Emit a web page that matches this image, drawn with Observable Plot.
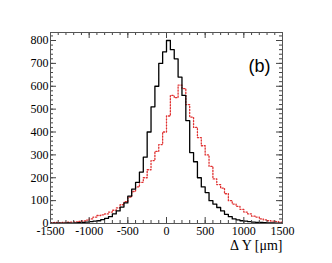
<!DOCTYPE html>
<html>
<head>
<meta charset="utf-8">
<script src="https://cdn.jsdelivr.net/npm/d3@7"></script>
<script src="https://cdn.jsdelivr.net/npm/@observablehq/plot@0.6"></script>
<style>
  html, body { margin: 0; padding: 0; background: #fff; }
</style>
</head>
<body>
<div id="chart"></div>
<script>
// Histogram bin left edges (50 µm bins from -1500 to 1500)
const binEdges = d3.range(-1500, 1500, 50);
// Black solid histogram counts
const blackCounts = [2,1,2,1,3,2,3,4,5,6,8,10,12,17,22,30,42,55,72,90,120,150,180,225,290,400,510,600,700,750,
                     800,760,720,640,560,450,310,270,200,160,135,100,85,70,55,40,30,20,16,12,10,8,6,5,5,4,3,3,2,2];
// Red dotted histogram counts
const redCounts = [4,5,4,5,6,6,7,9,11,15,20,28,35,38,42,50,58,68,82,95,115,140,160,180,200,235,275,315,345,400,
                   470,560,550,605,590,520,465,420,375,340,300,250,195,170,155,130,100,85,75,62,50,42,32,28,20,16,12,10,8,6];
const xLabels = [-1500, -1000, -500, 0, 500, 1000, 1500];
const yLabels = [0, 100, 200, 300, 400, 500, 600, 700, 800];
const xMinor = d3.range(-1500, 1501, 100);
const yMinor = d3.range(0, 821, 20);
const xTitle = "Δ Y [μm]";
const panelTag = "(b)";

function steps(counts) {
  const pts = binEdges.map((e, i) => ({x: e, y: counts[i]}));
  pts.push({x: 1500, y: counts[counts.length - 1]});
  return pts;
}

const W = 332, H = 263, mL = 50, mR = 50, mT = 32, mB = 40;
const fw = W - mL - mR, fh = H - mT - mB;
const tickColor = "#444";

const chart = Plot.plot({
  width: W, height: H,
  marginLeft: mL, marginRight: mR, marginTop: mT, marginBottom: mB,
  style: {fontFamily: "Liberation Serif", fontSize: "12px", background: "#fff", color: "#000"},
  x: {domain: [-1500, 1500]},
  y: {domain: [0, 835]},
  marks: [
    Plot.line(steps(redCounts), {x: "x", y: "y", curve: "step-after", stroke: "#e03030", strokeWidth: 1.3, strokeDasharray: "1.2,1.8"}),
    Plot.line(steps(blackCounts), {x: "x", y: "y", curve: "step-after", stroke: "#000", strokeWidth: 1.3}),
    // minor ticks inside the frame
    Plot.tickY(yMinor, {y: d => d, insetRight: fw - 3, stroke: tickColor}),
    Plot.tickY(yMinor, {y: d => d, insetLeft: fw - 3, stroke: tickColor}),
    Plot.tickX(xMinor, {x: d => d, insetTop: fh - 3, stroke: tickColor}),
    Plot.tickX(xMinor, {x: d => d, insetBottom: fh - 3, stroke: tickColor}),
    // major ticks
    Plot.tickY(yLabels, {y: d => d, insetRight: fw - 6, stroke: tickColor}),
    Plot.tickY(yLabels, {y: d => d, insetLeft: fw - 6, stroke: tickColor}),
    Plot.tickX(xLabels, {x: d => d, insetTop: fh - 6, stroke: tickColor}),
    Plot.tickX(xLabels, {x: d => d, insetBottom: fh - 6, stroke: tickColor}),
    Plot.axisY({ticks: yLabels, tickSize: 0, tickPadding: 2, tickFormat: d => String(d), label: null, fontSize: 12}),
    Plot.axisX({ticks: xLabels, tickSize: 0, tickPadding: 3, tickFormat: d => String(d), label: null, fontSize: 12}),
    Plot.frame({stroke: "#555"}),
    Plot.text([xTitle], {frameAnchor: "bottom-right", dy: 26, dx: 0, textAnchor: "end", fontSize: 14, fontFamily: "Liberation Serif"}),
    Plot.text([panelTag], {frameAnchor: "top-right", dx: -12, dy: 27, textAnchor: "end", fontSize: 18, fontFamily: "Liberation Sans"})
  ]
});
document.getElementById("chart").appendChild(chart);
</script>
</body>
</html>
